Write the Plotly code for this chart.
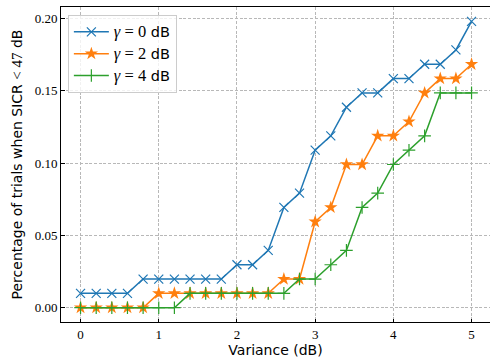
import plotly.graph_objects as go

variance = [0.0, 0.2, 0.4, 0.6, 0.8, 1.0, 1.2, 1.4, 1.6, 1.8, 2.0, 2.2, 2.4,
            2.6, 2.8, 3.0, 3.2, 3.4, 3.6, 3.8, 4.0, 4.2, 4.4, 4.6, 4.8, 5.0]

gamma0 = [0.0099, 0.0099, 0.0099, 0.0099, 0.0198, 0.0198, 0.0198, 0.0198, 0.0198,
          0.0198, 0.0297, 0.0297, 0.0396, 0.0693, 0.0792, 0.1089, 0.1188, 0.1386,
          0.1485, 0.1485, 0.1584, 0.1584, 0.1683, 0.1683, 0.1782, 0.198]
gamma2 = [0.0, 0.0, 0.0, 0.0, 0.0, 0.0099, 0.0099, 0.0099, 0.0099, 0.0099, 0.0099,
          0.0099, 0.0099, 0.0198, 0.0198, 0.0594, 0.0693, 0.099, 0.099, 0.1188,
          0.1188, 0.1287, 0.1485, 0.1584, 0.1584, 0.1683]
gamma4 = [0.0, 0.0, 0.0, 0.0, 0.0, 0.0, 0.0, 0.0099, 0.0099, 0.0099, 0.0099, 0.0099,
          0.0099, 0.0099, 0.0198, 0.0198, 0.0297, 0.0396, 0.0693, 0.0792, 0.099,
          0.1089, 0.1188, 0.1485, 0.1485, 0.1485]

x_ticks = [0, 1, 2, 3, 4, 5]
y_ticks = [0.0, 0.05, 0.10, 0.15, 0.20]
y_tick_labels = ["0.00", "0.05", "0.10", "0.15", "0.20"]

SERIF = "Liberation Serif"
SANS = "DejaVu Sans"

names = [f"<span style='font-family:{SERIF};font-size:16.5px'><i>γ</i> = {g}</span> dB" for g in (0, 2, 4)]
colors = ["#1f77b4", "#ff7f0e", "#2ca02c"]
symbols = ["x-thin", "star", "cross-thin"]
sizes = [9, 10, 9]

fig = go.Figure()
for ys, nm, c, s, sz in zip([gamma0, gamma2, gamma4], names, colors, symbols, sizes):
    fig.add_trace(go.Scatter(
        x=variance, y=ys, mode="lines+markers", name=nm,
        line=dict(color=c, width=1.5),
        marker=dict(symbol=s, size=sz, color=c, line=dict(color=c, width=1.2 if s != "star" else 0)),
    ))

axis_common = dict(
    showline=True, linecolor="black", linewidth=1,
    ticks="inside", ticklen=3.5, tickwidth=1, tickcolor="black",
    showgrid=True, gridcolor="#b8b8b8", griddash="3px,1.7px", gridwidth=0.8,
    zeroline=False, automargin=False,
    tickfont=dict(family=SERIF, size=13, color="black"),
)

fig.update_layout(
    width=490, height=360,
    margin=dict(l=61, r=0, t=7, b=38),
    paper_bgcolor="white", plot_bgcolor="white",
    font=dict(family=SANS, size=13, color="black"),
    xaxis=dict(range=[-0.25, 5.236], tickvals=x_ticks, mirror=True,
               title=dict(text="Variance (dB)", font=dict(family=SANS, size=14), standoff=4),
               **axis_common),
    yaxis=dict(range=[-0.0099, 0.2079], tickvals=y_ticks, ticktext=y_tick_labels, mirror=False,
               title=dict(text=f"Percentage of trials when SICR <span style='font-family:{SERIF};font-size:15px'>&lt; 47</span> dB",
                          font=dict(family=SANS, size=14), standoff=8),
               **axis_common),
    legend=dict(x=0.016, y=0.975, xanchor="left", yanchor="top",
                bgcolor="rgba(255,255,255,0.8)", bordercolor="#cccccc", borderwidth=1,
                font=dict(family=SANS, size=14.5), itemwidth=35, tracegroupgap=0),
    showlegend=True,
)

fig.write_html("out.html", config={"displayModeBar": False})
with open("out.html", encoding="utf-8") as f:
    html = f.read()
html = html.replace("<head>", "<head><style>html,body{margin:0;padding:0;overflow:hidden;}</style>", 1)
with open("out.html", "w", encoding="utf-8") as f:
    f.write(html)
